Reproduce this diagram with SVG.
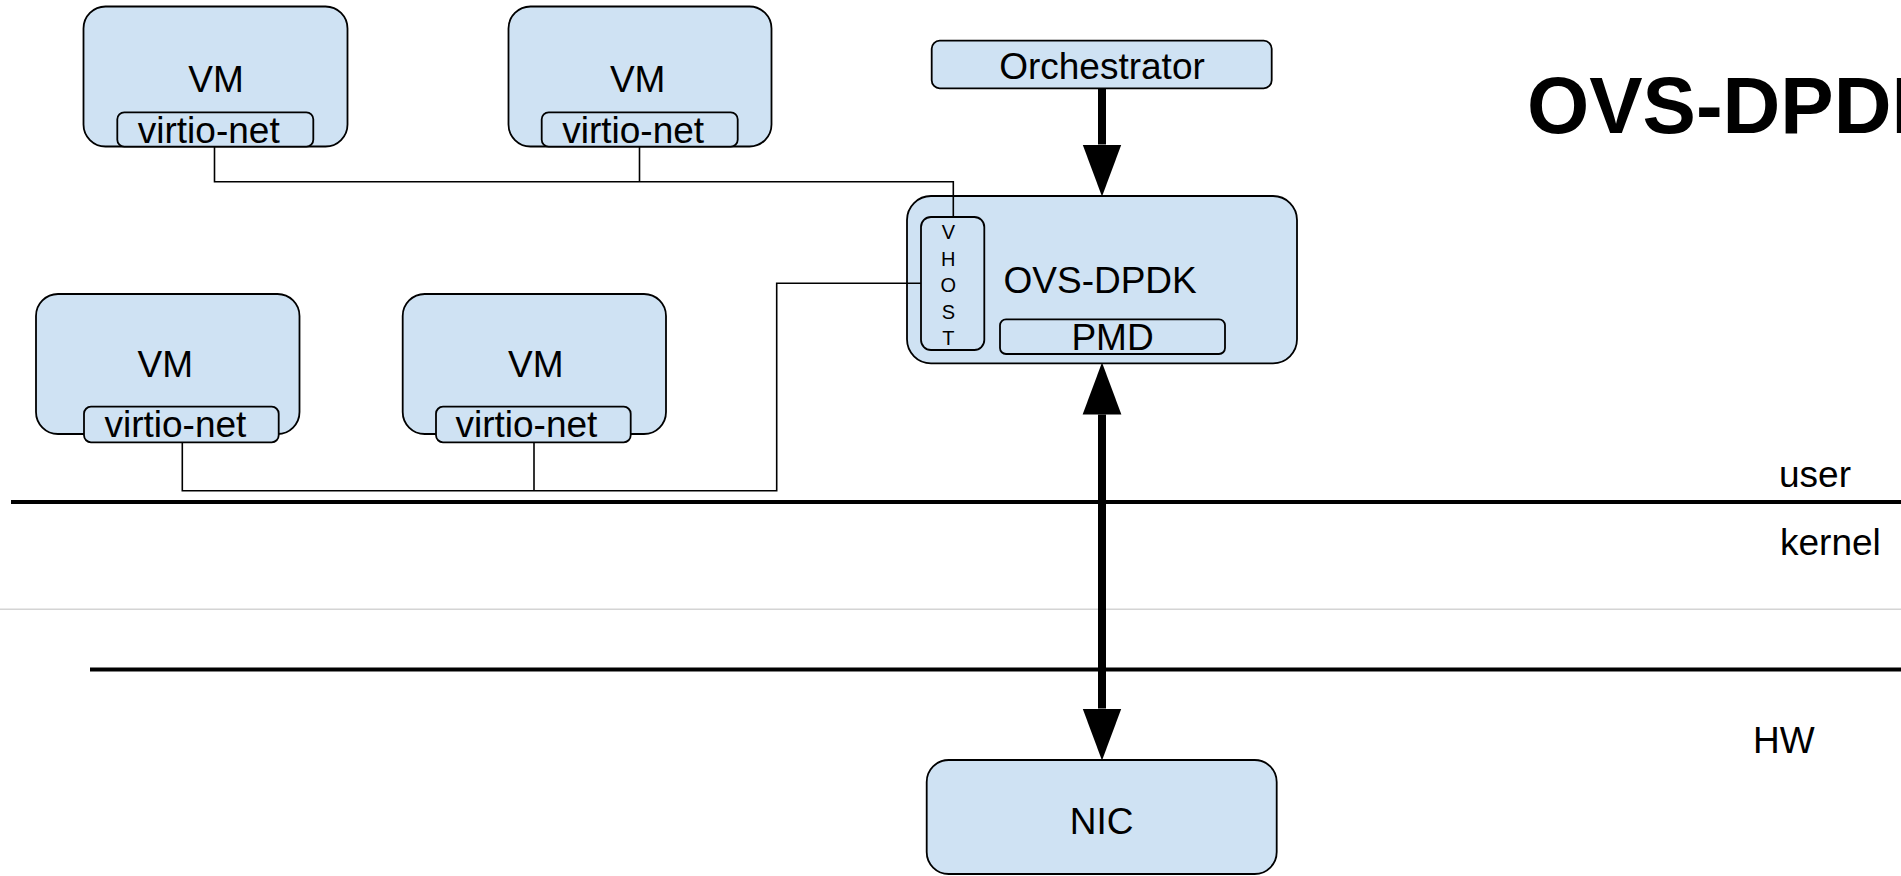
<svg xmlns="http://www.w3.org/2000/svg" width="1901" height="876" viewBox="0 0 1901 876">
<style>
.box{fill:#cfe2f3;stroke:#000;stroke-width:1.8}
.t{font-family:"Liberation Sans",Arial,sans-serif;font-size:37px;fill:#000}
.c{text-anchor:middle}
.vh{font-family:"Liberation Sans",Arial,sans-serif;font-size:20px;fill:#000;text-anchor:middle}
.wire{fill:none;stroke:#000;stroke-width:1.6}
.layer{stroke:#000;stroke-width:4}
.thick{stroke:#000;stroke-width:8;fill:none}
</style>
<defs>
<marker id="ah" markerUnits="userSpaceOnUse" markerWidth="52" markerHeight="40" viewBox="0 0 51 38" refX="0" refY="19" orient="auto-start-reverse">
<path d="M0,0 L51,19 L0,38 Z" fill="#000"/>
</marker>
</defs>
<rect width="1901" height="876" fill="#fff"/>
<g id="layers">
<line x1="0" y1="609.3" x2="1901" y2="609.3" stroke="#d4d4d4" stroke-width="1.6"/>
<line class="layer" x1="11" y1="502" x2="1901" y2="502"/>
<line class="layer" x1="90" y1="669.5" x2="1901" y2="669.5"/>
<text class="t" x="1779" y="486.7">user</text>
<text class="t" x="1780" y="555">kernel</text>
<text class="t" x="1753" y="752.7">HW</text>
</g>
<text id="title" x="1527" y="132.7" font-family="'Liberation Sans',Arial,sans-serif" font-size="80" font-weight="bold">OVS-DPDK</text>
<g id="vm1">
<rect class="box" x="83.5" y="6.5" width="264" height="140" rx="22"/>
<text class="t c" x="216" y="91.7">VM</text>
<rect class="box" x="117.3" y="112.3" width="196" height="34.4" rx="7"/>
<text class="t" x="137.8" y="143.3">virtio-net</text>
</g>
<g id="vm2">
<rect class="box" x="508.5" y="6.5" width="263" height="140" rx="22"/>
<text class="t c" x="637.7" y="91.7">VM</text>
<rect class="box" x="541.7" y="112.3" width="196" height="34.4" rx="7"/>
<text class="t" x="562.2" y="143.3">virtio-net</text>
</g>
<g id="vm3">
<rect class="box" x="36" y="294" width="263.5" height="140" rx="22"/>
<text class="t c" x="165.3" y="377.3">VM</text>
<rect class="box" x="84" y="406.7" width="194.7" height="35.6" rx="7"/>
<text class="t" x="104.5" y="437.3">virtio-net</text>
</g>
<g id="vm4">
<rect class="box" x="402.7" y="294" width="263.3" height="140" rx="22"/>
<text class="t c" x="535.8" y="377.3">VM</text>
<rect class="box" x="436" y="406.7" width="194.7" height="35.6" rx="7"/>
<text class="t" x="455.5" y="437.3">virtio-net</text>
</g>
<g id="orchestrator">
<rect class="box" x="931.7" y="40.7" width="340" height="47.6" rx="8"/>
<text class="t c" x="1102" y="79.3">Orchestrator</text>
</g>
<g id="ovs-dpdk">
<rect class="box" x="907" y="196" width="390" height="167.3" rx="24"/>
<text class="t" x="1003.5" y="293.3">OVS-DPDK</text>
<rect class="box" x="921" y="217" width="63.3" height="133" rx="10"/>
<text class="vh" x="948.3" y="238.8">V</text>
<text class="vh" x="948.3" y="265.5">H</text>
<text class="vh" x="948.3" y="292.2">O</text>
<text class="vh" x="948.3" y="318.5">S</text>
<text class="vh" x="948.3" y="344.5">T</text>
<rect class="box" x="1000" y="319.3" width="225" height="34.7" rx="6"/>
<text class="t c" x="1112.5" y="350">PMD</text>
</g>
<g id="nic">
<rect class="box" x="926.7" y="760" width="350" height="114" rx="22"/>
<text class="t c" x="1101.7" y="834.3">NIC</text>
</g>
<g id="connectors">
<path class="wire" d="M214.5 146.7 V181.7 H953.3 V217"/>
<path class="wire" d="M639.5 146.7 V181.7"/>
<path class="wire" d="M182.3 442.3 V490.7 H776.7 V283.3 H921"/>
<path class="wire" d="M534 442.3 V490.7"/>
<line class="thick" x1="1102" y1="88.3" x2="1102" y2="144.5" marker-end="url(#ah)"/>
<line class="thick" x1="1102" y1="414.5" x2="1102" y2="708.5" marker-start="url(#ah)" marker-end="url(#ah)"/>
</g>
</svg>
